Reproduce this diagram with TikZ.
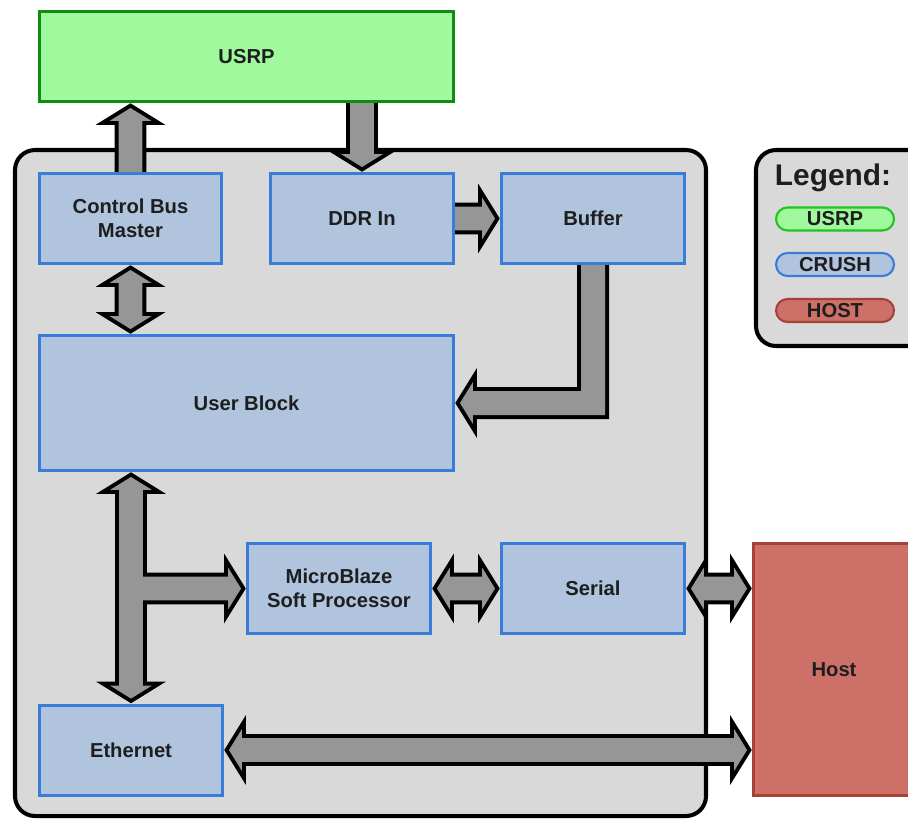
\documentclass[tikz,border=0pt]{standalone}
\usepackage{fontspec}
\setmainfont{Liberation Sans}
\usetikzlibrary{positioning,calc,shapes.misc}

\definecolor{usrpfill}{HTML}{A0F99C}
\definecolor{usrpedge}{HTML}{108C10}
\definecolor{usrpring}{HTML}{22C422}
\definecolor{crushfill}{HTML}{B0C4DE}
\definecolor{crushedge}{HTML}{3A7DD8}
\definecolor{hostfill}{HTML}{CC7068}
\definecolor{hostedge}{HTML}{A8403A}
\definecolor{panelgray}{HTML}{D9D9D9}
\definecolor{busgray}{HTML}{969696}
\definecolor{txt}{HTML}{1E1E1E}

\pgfdeclarelayer{panel}
\pgfdeclarelayer{bus}
\pgfsetlayers{panel,bus,main}

\tikzset{
  blk/.style={draw, line width=1.7pt, inner sep=0pt, align=center, text=txt,
    font=\bfseries\fontsize{11.5}{13.6}\selectfont},
  usrpblk/.style={blk, draw=usrpedge, fill=usrpfill},
  crushblk/.style={blk, draw=crushedge, fill=crushfill, minimum width=3.66cm, minimum height=1.8cm},
  hostblk/.style={blk, draw=hostedge, fill=hostfill},
  pill/.style={rounded rectangle, line width=1.2pt, minimum width=2.36cm, minimum height=0.46cm,
    inner sep=0pt, text=txt, font=\bfseries\fontsize{11.5}{12}\selectfont},
  busline/.style={draw=black, line width=4.54pt, line join=miter},
  busfill/.style={fill=busgray},
  % fat single arrow
  bus/.style={to path={let \p1=(\tikztostart),
      \p2=($(\tikztotarget)!10.2pt!(\tikztostart)$),
      \p3=($(\tikztotarget)!2.83pt!(\tikztostart)$) in
      ($(\p1)!6.8pt!90:(\p3)$) -- ($(\p2)!6.8pt!90:(\p3)$) -- ($(\p2)!11.9pt!90:(\p3)$) -- (\p3)
      -- ($(\p2)!11.9pt!-90:(\p3)$) -- ($(\p2)!6.8pt!-90:(\p3)$) -- ($(\p1)!6.8pt!-90:(\p3)$) -- cycle}},
  % fat double arrow
  dbus/.style={to path={let \p2=($(\tikztotarget)!10.2pt!(\tikztostart)$),
      \p3=($(\tikztotarget)!2.83pt!(\tikztostart)$),
      \p4=($(\tikztostart)!10.2pt!(\tikztotarget)$),
      \p5=($(\tikztostart)!2.83pt!(\tikztotarget)$) in
      (\p5) -- ($(\p4)!11.9pt!90:(\p3)$) -- ($(\p4)!6.8pt!90:(\p3)$) -- ($(\p2)!6.8pt!90:(\p3)$)
      -- ($(\p2)!11.9pt!90:(\p3)$) -- (\p3) -- ($(\p2)!11.9pt!-90:(\p3)$) -- ($(\p2)!6.8pt!-90:(\p3)$)
      -- ($(\p4)!6.8pt!-90:(\p3)$) -- ($(\p4)!11.9pt!-90:(\p3)$) -- cycle}}
}

\begin{document}
\begin{tikzpicture}[x=0.02cm, y=-0.02cm]
    \useasboundingbox (0,0) rectangle (908,819);

    % Panels
    \begin{pgfonlayer}{panel}
        \draw[line width=2.3pt, fill=panelgray, rounded corners=0.4cm] (15,150) rectangle (706,816); % CRUSH
        \draw[line width=2.3pt, fill=panelgray, rounded corners=0.4cm] (756,150) rectangle (940,346); % Legend
    \end{pgfonlayer}

    % Blocks
    \node[usrpblk, minimum width=8.28cm, minimum height=1.8cm] (usrp) at (246.5,56.5) {USRP};
    \node[crushblk] (cbm) at (130.5,218.5) {Control Bus\\Master};
    \node[crushblk] (ddr) at (362,218.5) {DDR In};
    \node[crushblk] (buffer) at (593,218.5) {Buffer};
    \node[crushblk, minimum width=8.28cm, minimum height=2.7cm] (user) at (246.5,403) {User Block};
    \node[crushblk] (mb) at (339,588.5) {MicroBlaze\\Soft Processor};
    \node[crushblk] (serial) at (593,588.5) {Serial};
    \node[crushblk] (eth) at (131,750) {Ethernet};
    \node[hostblk, minimum width=3.22cm, minimum height=5.04cm] (host) at (834,669.5) {Host};

    % Legend
    \node[font=\bfseries\fontsize{17}{20}\selectfont, text=txt] (legtitle) at (833,178) {Legend:};
    \node[pill, draw=usrpring, fill=usrpfill] (legusrp) at (835,219) {USRP};
    \node[pill, draw=crushedge, fill=crushfill] (legcrush) at (835,264.5) {CRUSH};
    \node[pill, draw=hostedge, fill=hostfill] (leghost) at (835,310.5) {HOST};

    % Buses: outlines first, then fills
    \begin{pgfonlayer}{bus}
    \foreach \pass in {busline,busfill} {
        \path[\pass] (cbm.north) to[bus] (cbm.north |- usrp.south);
        \path[\pass] (ddr.north |- usrp.south) to[bus] (ddr.north);
        \path[\pass] (cbm.south) to[dbus] (cbm.south |- user.north);
        \path[\pass] (ddr.east) to[bus] (buffer.west);
        \path[\pass] ($(buffer.south)+(-12,0)$) -- ($(buffer.south |- user.east)+(-12,-12)$)
            -- ($(user.east)+(18,-12)$) -- ($(user.east)+(18,-21)$) -- ($(user.east)+(5,0)$)
            -- ($(user.east)+(18,21)$) -- ($(user.east)+(18,12)$)
            -- ($(buffer.south |- user.east)+(12,12)$) -- ($(buffer.south)+(12,0)$) -- cycle;
        \path[\pass] (eth.north |- mb.west) to[bus] (mb.west);
        \path[\pass] (eth.north |- user.south) to[dbus] (eth.north);
        \path[\pass] (mb.east) to[dbus] (serial.west);
        \path[\pass] (serial.east) to[dbus] (serial.east -| host.west);
        \path[\pass] (eth.east) to[dbus] (eth.east -| host.west);
    }
    \end{pgfonlayer}
\end{tikzpicture}
\end{document}
